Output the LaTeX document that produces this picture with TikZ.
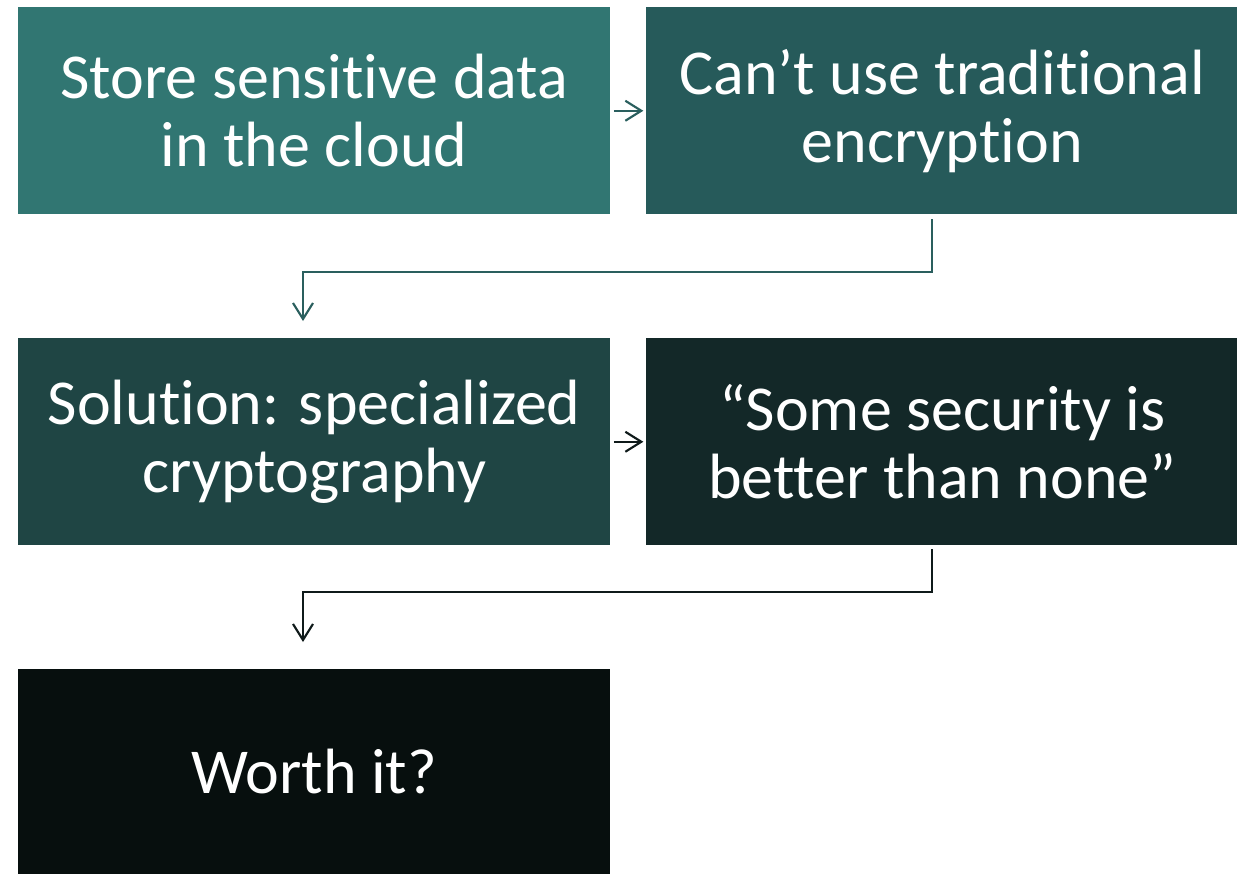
\documentclass[tikz,border=0pt]{standalone}
\usepackage{fontspec}
\setmainfont{Carlito}[Ligatures={NoCommon,NoRequired,NoContextual},RawFeature={-liga;-clig;-calt;-dlig}]
\usetikzlibrary{arrows.meta}
\definecolor{cA}{HTML}{317672}
\definecolor{cB}{HTML}{265A5A}
\definecolor{cC}{HTML}{1F4544}
\definecolor{cD}{HTML}{132828}
\definecolor{cE}{HTML}{070F0E}
\definecolor{lnA}{HTML}{2A5F5E}
\definecolor{lnB}{HTML}{0F1A1A}
\tikzset{
  box/.style={anchor=north west, inner sep=0pt, minimum width=444pt, minimum height=155.25pt,
    text=white, align=center, font=\fontsize{48}{51}\selectfont},
  conn/.style={line width=1.6pt, -{Straight Barb[length=12pt,width=15pt,line width=1.6pt]}},
}
\begin{document}
\begin{tikzpicture}[x=0.75pt,y=-0.75pt]
\useasboundingbox (0,0) rectangle (1237,874);
\node[box, fill=cA] (b1) at (18,7) {Store sensitive data\\in the cloud};
\node[box, fill=cB] (b2) at (646,7) {Can’t use traditional\\encryption};
\node[box, fill=cC] (b3) at (18,338) {Solution: specialized\\cryptography};
\node[box, fill=cD] (b4) at (646,338) {“Some security is\\better than none”};
\node[box, fill=cE, minimum height=153.75pt] (b5) at (18,669) {Worth it?};
\coordinate (s2) at (932,219);
\coordinate (t3) at (303,321);
\coordinate (s4) at (932,549);
\coordinate (t5) at (303,642);
\draw[conn, lnA, shorten <=2.5pt, shorten >=2pt] (b1.east) -- (b2.west);
\draw[conn, lnA] (s2) -- ++(0,53) -| (t3);
\draw[conn, lnB, shorten <=2.5pt, shorten >=2pt] (b3.east) -- (b4.west);
\draw[conn, lnB] (s4) -- ++(0,43) -| (t5);
\end{tikzpicture}
\end{document}
